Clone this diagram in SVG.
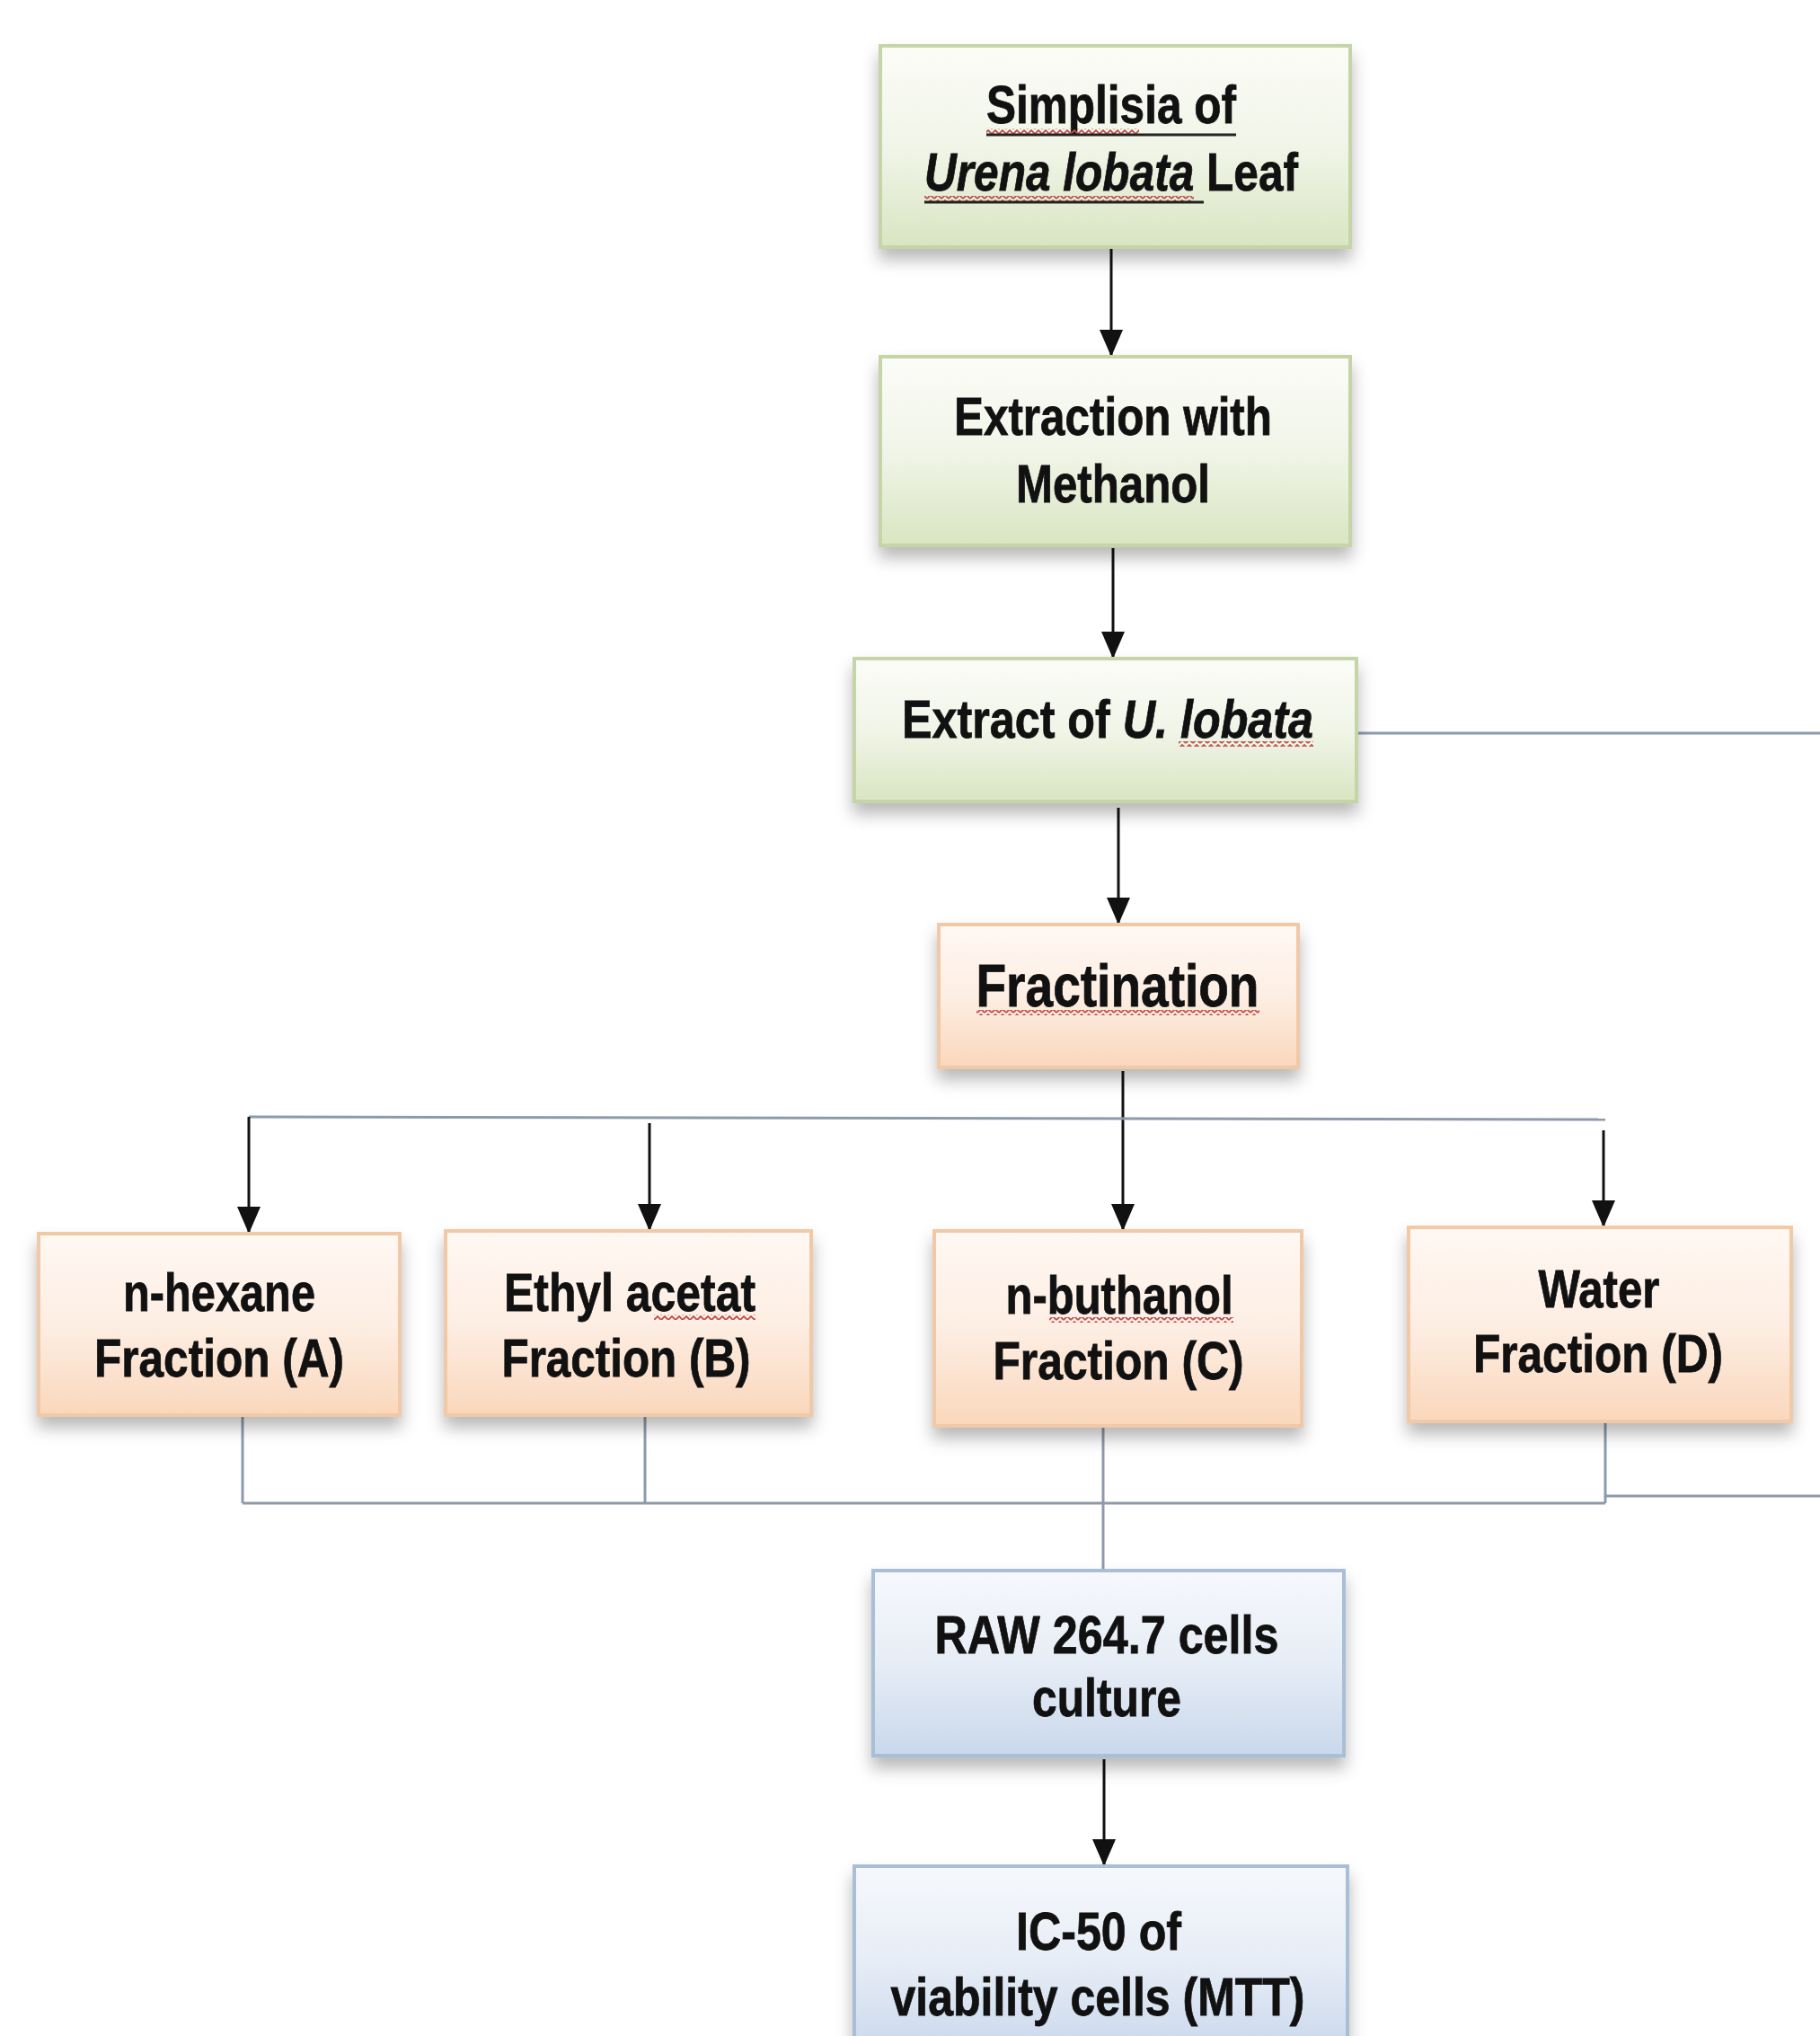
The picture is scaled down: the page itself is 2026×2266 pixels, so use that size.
<svg xmlns="http://www.w3.org/2000/svg" width="2026" height="2266" viewBox="0 0 2026 2266">
<style>
text{font-family:"Liberation Sans Narrow","Liberation Sans",Arial,sans-serif;font-weight:bold;font-size:60px;fill:#111;stroke:#111;stroke-width:0.8;text-anchor:middle}
.it{font-style:italic}
.green{fill:url(#gG);stroke:#c5d5a8;stroke-width:4}
.orange{fill:url(#gO);stroke:#f2c9a6;stroke-width:4}
.blue{fill:url(#gB);stroke:#a9bfd8;stroke-width:4}
.arrow{stroke:#111;stroke-width:3;fill:none;marker-end:url(#ah)}
.bracket{stroke:#8d9aab;stroke-width:3;fill:none}
.ul{stroke:#222;stroke-width:3}
</style>
<defs>
<linearGradient id="gG" x1="0" y1="0" x2="0" y2="1"><stop offset="0" stop-color="#fbfcf7"/><stop offset="0.5" stop-color="#f1f5e8"/><stop offset="1" stop-color="#d9e5c2"/></linearGradient>
<linearGradient id="gO" x1="0" y1="0" x2="0" y2="1"><stop offset="0" stop-color="#fff8f3"/><stop offset="0.5" stop-color="#fdeee3"/><stop offset="1" stop-color="#fad7bc"/></linearGradient>
<linearGradient id="gB" x1="0" y1="0" x2="0" y2="1"><stop offset="0" stop-color="#f6f8fc"/><stop offset="0.5" stop-color="#e7edf6"/><stop offset="1" stop-color="#c9d8ec"/></linearGradient>
<filter id="sh" x="-10%" y="-10%" width="120%" height="135%"><feDropShadow dx="0" dy="12" stdDeviation="9" flood-color="#000" flood-opacity="0.28"/></filter>
<marker id="ah" markerUnits="userSpaceOnUse" markerWidth="32" markerHeight="26" refX="30" refY="13" orient="auto"><path d="M0,0 L30,13 L0,26 z" fill="#111"/></marker>
<pattern id="wave" width="8" height="6" patternUnits="userSpaceOnUse"><path d="M0,5 L4,1 L8,5" fill="none" stroke="#c0504d" stroke-width="1.8"/></pattern>
</defs>
<rect width="2026" height="2266" fill="#fff"/>

<g id="connectors">
<line class="arrow" x1="1237" y1="277" x2="1237" y2="397"/>
<line class="arrow" x1="1239" y1="610" x2="1239" y2="733"/>
<line class="arrow" x1="1245" y1="899" x2="1245" y2="1029"/>
<line class="bracket" x1="1512" y1="816" x2="2026" y2="816"/>
<line class="arrow" x1="1250" y1="1192" x2="1250" y2="1370"/>
<line class="bracket" x1="277" y1="1243" x2="1787" y2="1246"/>
<line class="arrow" x1="277" y1="1243" x2="277" y2="1373"/>
<line class="arrow" x1="723" y1="1250" x2="723" y2="1370"/>
<line class="arrow" x1="1785" y1="1258" x2="1785" y2="1366"/>
<line class="bracket" x1="270" y1="1577" x2="270" y2="1673"/>
<line class="bracket" x1="718" y1="1577" x2="718" y2="1673"/>
<line class="bracket" x1="1787" y1="1584" x2="1787" y2="1673"/>
<line class="bracket" x1="270" y1="1673" x2="1787" y2="1673"/>
<line class="bracket" x1="1787" y1="1665" x2="2026" y2="1665"/>
<line class="bracket" x1="1228" y1="1589" x2="1228" y2="1748"/>
<line class="arrow" x1="1229" y1="1958" x2="1229" y2="2077"/>
</g>

<g id="node-simplisia">
<rect class="green" x="980" y="51" width="523" height="224" filter="url(#sh)"/>
<text x="1237" y="137" textLength="278" lengthAdjust="spacingAndGlyphs">Simplisia of</text>
<rect x="1098" y="143" width="170" height="6" fill="url(#wave)"/>
<line class="ul" x1="1098" y1="150" x2="1376" y2="150"/>
<text x="1237" y="212" textLength="416" lengthAdjust="spacingAndGlyphs"><tspan class="it">Urena lobata</tspan> Leaf</text>
<rect x="1029" y="218" width="300" height="6" fill="url(#wave)"/>
<line class="ul" x1="1029" y1="225" x2="1340" y2="225"/>
</g>

<g id="node-extraction">
<rect class="green" x="980" y="397" width="523" height="210" filter="url(#sh)"/>
<text x="1239" y="484" textLength="354" lengthAdjust="spacingAndGlyphs">Extraction with</text>
<text x="1239" y="559" textLength="216" lengthAdjust="spacingAndGlyphs">Methanol</text>
</g>

<g id="node-extract">
<rect class="green" x="951" y="733" width="559" height="159" filter="url(#sh)"/>
<text x="1233" y="821" textLength="458" lengthAdjust="spacingAndGlyphs">Extract of <tspan class="it">U. lobata</tspan></text>
<rect x="1312" y="825" width="150" height="6" fill="url(#wave)"/>
</g>

<g id="node-fractination">
<rect class="orange" x="1045" y="1029" width="400" height="159" filter="url(#sh)"/>
<text x="1244" y="1120" style="font-size:66px" textLength="315" lengthAdjust="spacingAndGlyphs">Fractination</text>
<rect x="1087" y="1124" width="315" height="6" fill="url(#wave)"/>
</g>

<g id="node-a">
<rect class="orange" x="43" y="1373" width="402" height="202" filter="url(#sh)"/>
<text x="244" y="1459" textLength="214" lengthAdjust="spacingAndGlyphs">n-hexane</text>
<text x="244" y="1532" textLength="278" lengthAdjust="spacingAndGlyphs">Fraction (A)</text>
</g>

<g id="node-b">
<rect class="orange" x="496" y="1370" width="407" height="205" filter="url(#sh)"/>
<text x="701" y="1459" textLength="280" lengthAdjust="spacingAndGlyphs">Ethyl acetat</text>
<rect x="728" y="1463" width="113" height="6" fill="url(#wave)"/>
<text x="697" y="1532" textLength="277" lengthAdjust="spacingAndGlyphs">Fraction (B)</text>
</g>

<g id="node-c">
<rect class="orange" x="1040" y="1370" width="409" height="217" filter="url(#sh)"/>
<text x="1246" y="1462" textLength="253" lengthAdjust="spacingAndGlyphs">n-buthanol</text>
<rect x="1168" y="1466" width="205" height="6" fill="url(#wave)"/>
<text x="1245" y="1535" textLength="279" lengthAdjust="spacingAndGlyphs">Fraction (C)</text>
</g>

<g id="node-d">
<rect class="orange" x="1568" y="1366" width="426" height="216" filter="url(#sh)"/>
<text x="1780" y="1455" textLength="135" lengthAdjust="spacingAndGlyphs">Water</text>
<text x="1779" y="1527" textLength="278" lengthAdjust="spacingAndGlyphs">Fraction (D)</text>
</g>

<g id="node-raw">
<rect class="blue" x="972" y="1748" width="524" height="206" filter="url(#sh)"/>
<text x="1232" y="1840" textLength="383" lengthAdjust="spacingAndGlyphs">RAW 264.7 cells</text>
<text x="1232" y="1910" textLength="166" lengthAdjust="spacingAndGlyphs">culture</text>
</g>

<g id="node-ic50">
<rect class="blue" x="951" y="2077" width="549" height="210" filter="url(#sh)"/>
<text x="1223" y="2170" textLength="184" lengthAdjust="spacingAndGlyphs">IC-50 of</text>
<text x="1222" y="2243" textLength="461" lengthAdjust="spacingAndGlyphs">viability cells (MTT)</text>
</g>
</svg>
